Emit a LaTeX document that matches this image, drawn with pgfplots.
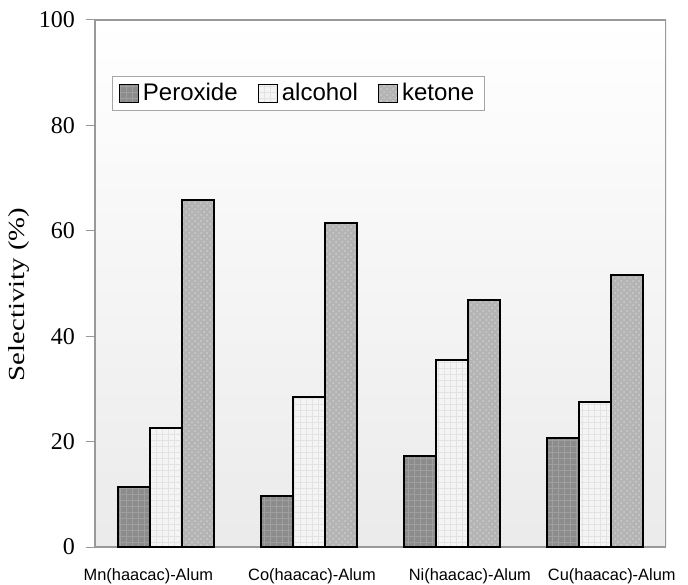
\documentclass[border=0pt]{standalone}
\usepackage{fontspec}
\setmainfont{Liberation Serif}
\newfontfamily\sansf{Liberation Sans}
\usepackage{pgfplots}
\pgfplotsset{compat=1.18}
\usetikzlibrary{patterns}
\definecolor{perox}{HTML}{8C8C8C}
\definecolor{alco}{HTML}{F4F4F4}
\definecolor{keto}{HTML}{B4B4B4}
\begin{document}
\begin{tikzpicture}
\begin{axis}[
  scale only axis,
  width=285.5pt, height=263.5pt,
  xmin=-0.5, xmax=3.5,
  ymin=0, ymax=100,
  ytick={0,20,40,60,80,100},
  xtick={-0.126,1.02,2.126,3.12},
  xticklabels={Mn(haacac)-Alum,Co(haacac)-Alum,Ni(haacac)-Alum,Cu(haacac)-Alum},
  x tick label style={font=\sansf\fontsize{8.2}{9}\selectfont, yshift=-3pt},
  y tick label style={font=\fontsize{12}{13}\selectfont, xshift=-2pt},
  /pgf/number format/assume math mode=true,
  tick align=outside,
  xtick style={draw=none},
  ytick style={draw=gray!80, line width=0.5pt},
  major tick length=4.5pt,
  axis line style={draw=gray!80, line width=0.6pt},
  axis x line*=bottom, axis y line*=left,
  ylabel={\scalebox{1.25}[1]{\fontsize{11.5}{12}\selectfont Selectivity (\%)}},
  ylabel style={xshift=-5.5pt, yshift=-2pt},
  axis background/.style={shade, top color=white, bottom color=gray!16},
  ybar=0pt, bar width=16pt,
  legend style={at={(0.03,0.894)}, anchor=north west, legend columns=3,
    draw=gray!70, line width=0.6pt, fill=white,
    font=\sansf\fontsize{12}{13}\selectfont,
    /tikz/every even column/.append style={column sep=8pt},
    inner xsep=3pt, inner ysep=1.5pt},
  legend image code/.code={\draw[#1, line width=0.6pt] (0pt,-4.5pt) rectangle (9.5pt,4.5pt);},
]
\addplot[draw=black, line width=1pt, fill=perox, postaction={pattern=grid, pattern color=gray!75}] coordinates {(0,11.4) (1,9.7) (2,17.3) (3,20.7)};
\addplot[draw=black, line width=1pt, fill=alco, postaction={pattern=grid, pattern color=gray!22}] coordinates {(0,22.6) (1,28.5) (2,35.5) (3,27.5)};
\addplot[draw=black, line width=1pt, fill=keto, postaction={pattern=crosshatch dots, pattern color=gray!40}] coordinates {(0,65.8) (1,61.5) (2,46.9) (3,51.6)};
\legend{Peroxide,alcohol,ketone}
\draw[draw=gray!80, line width=0.6pt] (rel axis cs:0,1) -- (rel axis cs:1,1) -- (rel axis cs:1,0);
\coordinate (sw) at (rel axis cs:0,0);
\coordinate (ne) at (rel axis cs:1,1);
\end{axis}
\pgfresetboundingbox
\path ([shift={(-47.5pt,-18.5pt)}]sw) rectangle ([shift={(11pt,10pt)}]ne);
\end{tikzpicture}
\end{document}
